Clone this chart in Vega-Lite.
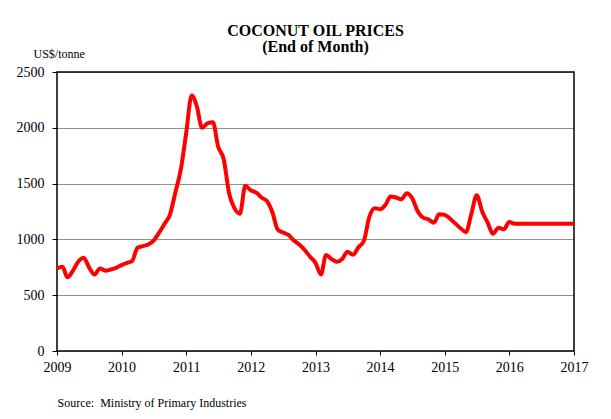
{
  "$schema": "https://vega.github.io/schema/vega-lite/v6.json",
  "autosize": {"type": "none"},
  "width": 517,
  "height": 279,
  "padding": {"left": 57, "top": 72, "right": 37, "bottom": 68},
  "background": "white",
  "title": {
    "text": "COCONUT OIL PRICES",
    "subtitle": "(End of Month)",
    "anchor": "middle",
    "offset": -8,
    "font": "Liberation Serif",
    "fontSize": 16,
    "fontWeight": "bold",
    "color": "black",
    "subtitleFont": "Liberation Serif",
    "subtitleFontSize": 16,
    "subtitleFontWeight": "bold",
    "subtitleColor": "black",
    "subtitlePadding": 0
  },
  "data": {
    "values": [
      {"date": "2009-01-01", "price": 740}, {"date": "2009-02-01", "price": 755}, {"date": "2009-03-01", "price": 660}, {"date": "2009-04-01", "price": 720},
      {"date": "2009-05-01", "price": 800}, {"date": "2009-06-01", "price": 835}, {"date": "2009-07-01", "price": 750}, {"date": "2009-08-01", "price": 685},
      {"date": "2009-09-01", "price": 740}, {"date": "2009-10-01", "price": 720}, {"date": "2009-11-01", "price": 730}, {"date": "2009-12-01", "price": 745},
      {"date": "2010-01-01", "price": 770}, {"date": "2010-02-01", "price": 790}, {"date": "2010-03-01", "price": 805}, {"date": "2010-04-01", "price": 925},
      {"date": "2010-05-01", "price": 940}, {"date": "2010-06-01", "price": 955}, {"date": "2010-07-01", "price": 990}, {"date": "2010-08-01", "price": 1060},
      {"date": "2010-09-01", "price": 1140}, {"date": "2010-10-01", "price": 1220}, {"date": "2010-11-01", "price": 1420}, {"date": "2010-12-01", "price": 1620},
      {"date": "2011-01-01", "price": 1950}, {"date": "2011-02-01", "price": 2290}, {"date": "2011-03-01", "price": 2200}, {"date": "2011-04-01", "price": 2000},
      {"date": "2011-05-01", "price": 2040}, {"date": "2011-06-01", "price": 2050}, {"date": "2011-07-01", "price": 1830}, {"date": "2011-08-01", "price": 1720},
      {"date": "2011-09-01", "price": 1410}, {"date": "2011-10-01", "price": 1280}, {"date": "2011-11-01", "price": 1230}, {"date": "2011-12-01", "price": 1480},
      {"date": "2012-01-01", "price": 1440}, {"date": "2012-02-01", "price": 1420}, {"date": "2012-03-01", "price": 1375}, {"date": "2012-04-01", "price": 1345},
      {"date": "2012-05-01", "price": 1250}, {"date": "2012-06-01", "price": 1090}, {"date": "2012-07-01", "price": 1062}, {"date": "2012-08-01", "price": 1040},
      {"date": "2012-09-01", "price": 990}, {"date": "2012-10-01", "price": 955}, {"date": "2012-11-01", "price": 905}, {"date": "2012-12-01", "price": 845},
      {"date": "2013-01-01", "price": 790}, {"date": "2013-02-01", "price": 685}, {"date": "2013-03-01", "price": 860}, {"date": "2013-04-01", "price": 825},
      {"date": "2013-05-01", "price": 800}, {"date": "2013-06-01", "price": 825}, {"date": "2013-07-01", "price": 890}, {"date": "2013-08-01", "price": 862},
      {"date": "2013-09-01", "price": 930}, {"date": "2013-10-01", "price": 985}, {"date": "2013-11-01", "price": 1200}, {"date": "2013-12-01", "price": 1280},
      {"date": "2014-01-01", "price": 1270}, {"date": "2014-02-01", "price": 1310}, {"date": "2014-03-01", "price": 1385}, {"date": "2014-04-01", "price": 1375},
      {"date": "2014-05-01", "price": 1360}, {"date": "2014-06-01", "price": 1413}, {"date": "2014-07-01", "price": 1370}, {"date": "2014-08-01", "price": 1255},
      {"date": "2014-09-01", "price": 1195}, {"date": "2014-10-01", "price": 1180}, {"date": "2014-11-01", "price": 1150}, {"date": "2014-12-01", "price": 1225},
      {"date": "2015-01-01", "price": 1220}, {"date": "2015-02-01", "price": 1185}, {"date": "2015-03-01", "price": 1144}, {"date": "2015-04-01", "price": 1100},
      {"date": "2015-05-01", "price": 1065}, {"date": "2015-06-01", "price": 1230}, {"date": "2015-07-01", "price": 1395}, {"date": "2015-08-01", "price": 1250},
      {"date": "2015-09-01", "price": 1150}, {"date": "2015-10-01", "price": 1050}, {"date": "2015-11-01", "price": 1105}, {"date": "2015-12-01", "price": 1090},
      {"date": "2016-01-01", "price": 1155}, {"date": "2016-02-01", "price": 1140}, {"date": "2016-03-01", "price": 1140}, {"date": "2016-04-01", "price": 1140},
      {"date": "2016-05-01", "price": 1140}, {"date": "2016-06-01", "price": 1140}, {"date": "2016-07-01", "price": 1140}, {"date": "2016-08-01", "price": 1140},
      {"date": "2016-09-01", "price": 1140}, {"date": "2016-10-01", "price": 1140}, {"date": "2016-11-01", "price": 1140}, {"date": "2016-12-01", "price": 1140},
      {"date": "2017-01-01", "price": 1140}
    ]
  },
  "mark": {"type": "line", "color": "#FF0000", "strokeWidth": 4, "interpolate": "monotone", "strokeCap": "butt", "strokeJoin": "round"},
  "encoding": {
    "x": {
      "field": "date",
      "type": "temporal",
      "scale": {"type": "utc", "domain": [{"year": 2009, "month": 1, "date": 1, "utc": true}, {"year": 2017, "month": 1, "date": 1, "utc": true}], "nice": false},
      "axis": {
        "format": "%Y",
        "tickCount": {"interval": "year", "step": 1},
        "grid": false,
        "domain": false,
        "tickSize": 4,
        "tickColor": "black",
        "labelPadding": 5,
        "labelFontSize": 14,
        "labelColor": "black",
        "labelFont": "Liberation Serif",
        "labelBaseline": "top",
        "labelFlush": false,
        "title": "Source:\u00a0 Ministry of Primary Industries",
        "titleFont": "Liberation Serif",
        "titleFontSize": 12,
        "titleFontWeight": "normal",
        "titleColor": "black",
        "titleAnchor": "start",
        "titleAlign": "left",
        "titleBaseline": "alphabetic",
        "titleX": 0,
        "titleY": 55
      }
    },
    "y": {
      "field": "price",
      "type": "quantitative",
      "scale": {"domain": [0, 2500], "nice": false},
      "axis": {
        "values": [0, 500, 1000, 1500, 2000, 2500],
        "format": "d",
        "grid": true,
        "gridColor": "#222222",
        "gridDash": [1, 1],
        "gridWidth": 1,
        "domain": false,
        "tickSize": 5,
        "tickColor": "black",
        "labelPadding": 8,
        "labelFontSize": 14,
        "labelColor": "black",
        "labelFont": "Liberation Serif",
        "title": "US$/tonne",
        "titleFont": "Liberation Serif",
        "titleFontSize": 12,
        "titleFontWeight": "normal",
        "titleColor": "black",
        "titleAngle": 0,
        "titleAlign": "left",
        "titleBaseline": "alphabetic",
        "titleX": -24,
        "titleY": -15
      }
    }
  },
  "config": {
    "font": "Liberation Serif",
    "view": {"stroke": "black", "strokeWidth": 1.5}
  }
}
